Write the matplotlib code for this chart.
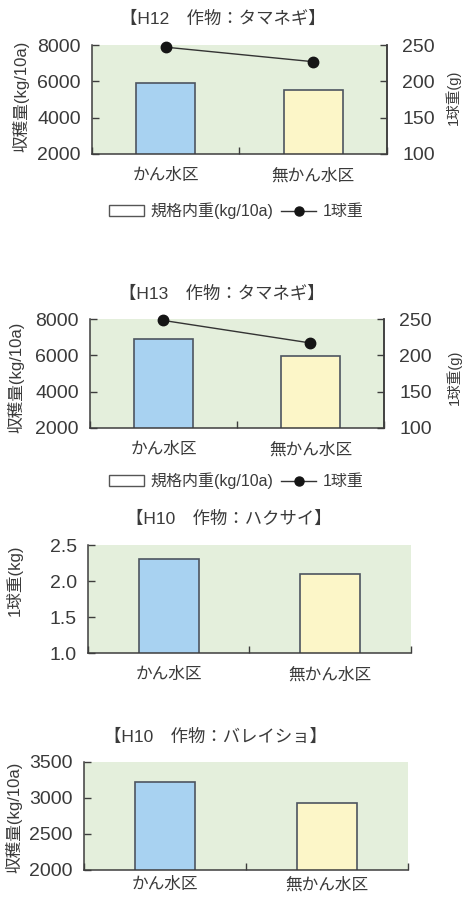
import matplotlib
matplotlib.use("Agg")
import matplotlib.pyplot as plt
from matplotlib.patches import Patch
from matplotlib.lines import Line2D

plt.rcParams['font.family'] = ['Liberation Sans', 'Noto Sans CJK JP']

# ---- data ----
categories = ["かん水区", "無かん水区"]

h12_yield = [5900, 5550]      # 規格内重 (kg/10a)
h12_bulb = [247, 227]         # 1球重 (g)

h13_yield = [6900, 5950]
h13_bulb = [248, 217]

h10_cabbage = [2.3, 2.1]      # 1球重 (kg)
h10_potato = [3220, 2930]     # 収穫量 (kg/10a)

titles = ["【H12　作物：タマネギ】", "【H13　作物：タマネギ】",
          "【H10　作物：ハクサイ】", "【H10　作物：バレイショ】"]

# ---- style ----
BG = "#e4efdc"
BAR_COLORS = ["#a8d2f1", "#fcf6c8"]
EDGE = "#4d5560"
TXT = "#3a3a3a"
AX = "#3d3d3d"

W, H = 464, 899
fig = plt.figure(figsize=(W / 100, H / 100), dpi=100)
fig.patch.set_facecolor("white")


def box(l, t, r, b):
    return [l / W, 1 - b / H, (r - l) / W, (b - t) / H]


def style_axes(ax, ylim, yticks, fmt, right=False, xpad=10):
    ax.set_facecolor(BG)
    ax.set_xlim(-0.5, 1.5)
    ax.set_ylim(*ylim)
    ax.set_yticks(yticks)
    ax.set_yticklabels([fmt.format(v) for v in yticks])
    ax.set_xticks(range(len(categories)))
    ax.set_xticklabels(categories, fontsize=12, color=TXT)
    ax.set_xticks([-0.5, 0.5, 1.5], minor=True)
    ax.tick_params(axis="x", which="major", length=0, pad=xpad)
    ax.tick_params(axis="x", which="minor", direction="in", length=5,
                   width=1, color=AX)
    ax.tick_params(axis="y", direction="in", length=5, width=1, color=AX,
                   labelsize=14, labelcolor=TXT, pad=8)
    for s in ["top", "right"]:
        ax.spines[s].set_visible(False)
    for s in ["left", "bottom"]:
        ax.spines[s].set_color(AX)
        ax.spines[s].set_linewidth(1.1)
    ax.spines["right"].set_visible(right)
    ax.spines["right"].set_color(AX)
    ax.spines["right"].set_linewidth(1.1)
    return ax


def draw_bars(ax, values, width):
    ax.bar(range(len(categories)), values, width=width, color=BAR_COLORS,
           edgecolor=EDGE, linewidth=1.2, zorder=2)


def draw_line(ax, values):
    ax2 = ax.twinx()
    ax2.set_ylim(100, 250)
    ax2.set_yticks([100, 150, 200, 250])
    ax2.plot(range(len(categories)), values, color="#333333", lw=1.0,
             marker="o", ms=7.5, mfc="#151515", mec="#151515", zorder=3,
             clip_on=False)
    ax2.tick_params(axis="y", direction="in", length=5, width=1, color=AX,
                    labelsize=14, labelcolor=TXT, pad=11)
    for s in ["top", "left", "bottom"]:
        ax2.spines[s].set_visible(False)
    ax2.spines["right"].set_color(AX)
    ax2.spines["right"].set_linewidth(1.1)
    return ax2


def legend(y):
    handles = [Patch(facecolor="white", edgecolor="#555555", linewidth=1.0),
               Line2D([], [], color="#333333", lw=1.0, marker="o", ms=6.5,
                      mfc="#151515", mec="#151515")]
    fig.legend(handles, ["規格内重(kg/10a)", "1球重"], loc="center",
               bbox_to_anchor=(236 / W, 1 - y / H), ncol=2, frameon=False,
               fontsize=11.5, handlelength=2.2, handleheight=0.7,
               handletextpad=0.4, columnspacing=0.5, labelcolor=TXT)


def vtext(x, y, s, size=12):
    fig.text(x / W, 1 - y / H, s, rotation=90, ha="center", va="center",
             fontsize=size, color=TXT)


def title(x, y, s):
    fig.text(x / W, 1 - y / H, s, ha="center", va="center", fontsize=12.5,
             color=TXT)


# ---- H12 onion ----
ax1 = fig.add_axes(box(92, 45, 387, 154))
style_axes(ax1, (2000, 8000), [2000, 4000, 6000, 8000], "{:d}", right=True)
draw_bars(ax1, h12_yield, 0.4)
draw_line(ax1, h12_bulb)
title(223, 19, titles[0])
vtext(21, 96, "収穫量(kg/10a)")
vtext(453, 97, "1球重(g)", size=10.5)
legend(211)

# ---- H13 onion ----
ax2 = fig.add_axes(box(90, 319, 384, 428))
style_axes(ax2, (2000, 8000), [2000, 4000, 6000, 8000], "{:d}", right=True)
draw_bars(ax2, h13_yield, 0.4)
draw_line(ax2, h13_bulb)
title(222, 294, titles[1])
vtext(16, 377, "収穫量(kg/10a)")
vtext(454, 377, "1球重(g)", size=10.5)
legend(481)

# ---- H10 Chinese cabbage ----
ax3 = fig.add_axes(box(88, 545, 411, 653))
style_axes(ax3, (1.0, 2.5), [1.0, 1.5, 2.0, 2.5], "{:.1f}")
draw_bars(ax3, h10_cabbage, 0.37)
title(229, 519, titles[2])
vtext(14, 580, "1球重(kg)", size=12)

# ---- H10 potato ----
ax4 = fig.add_axes(box(84, 762, 408, 870))
style_axes(ax4, (2000, 3500), [2000, 2500, 3000, 3500], "{:d}", xpad=5)
draw_bars(ax4, h10_potato, 0.37)
title(216, 737, titles[3])
vtext(14, 817, "収穫量(kg/10a)")

fig.savefig("out.png", dpi=100, facecolor="white")
